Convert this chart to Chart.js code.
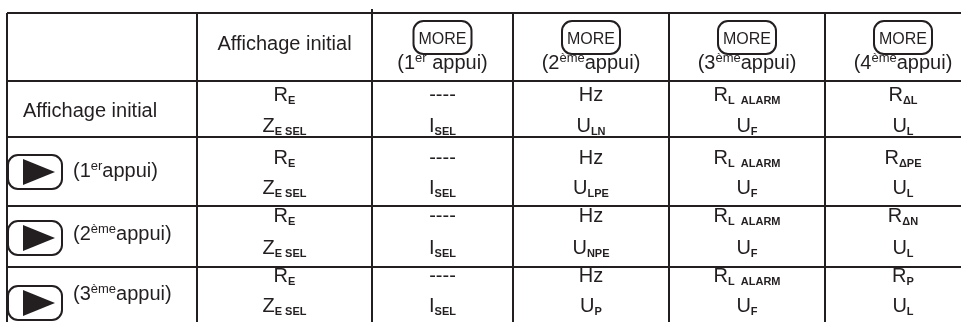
<!DOCTYPE html>
<html>
<head>
<meta charset="utf-8">
<style>
  html, body { margin: 0; padding: 0; background: #fff; }
  canvas { display: block; }
</style>
</head>
<body>
<canvas id="table" width="961" height="322"></canvas>
<script src="https://cdn.jsdelivr.net/npm/chart.js"></script>
<script>
  // table content
  const pressNums = ['1', '2', '3', '4'];
  const pressSup = ['er', 'ème', 'ème', 'ème'];
  const rowNums = ['', '1', '2', '3'];
  const rowSup = ['', 'er', 'ème', 'ème'];
  const initialLabel = 'Affichage initial';

  // each cell: [symbol, subscript]
  const initTop = [['R', 'E'], ['R', 'E'], ['R', 'E'], ['R', 'E']];
  const initBottom = [['Z', 'E SEL'], ['Z', 'E SEL'], ['Z', 'E SEL'], ['Z', 'E SEL']];
  const more1Top = [['----', ''], ['----', ''], ['----', ''], ['----', '']];
  const more1Bottom = [['I', 'SEL'], ['I', 'SEL'], ['I', 'SEL'], ['I', 'SEL']];
  const more2Top = [['Hz', ''], ['Hz', ''], ['Hz', ''], ['Hz', '']];
  const more2Bottom = [['U', 'LN'], ['U', 'LPE'], ['U', 'NPE'], ['U', 'P']];
  const more3Top = [['R', 'L  ALARM'], ['R', 'L  ALARM'], ['R', 'L  ALARM'], ['R', 'L  ALARM']];
  const more3Bottom = [['U', 'F'], ['U', 'F'], ['U', 'F'], ['U', 'F']];
  const more4Top = [['R', 'ΔL'], ['R', 'ΔPE'], ['R', 'ΔN'], ['R', 'P']];
  const more4Bottom = [['U', 'L'], ['U', 'L'], ['U', 'L'], ['U', 'L']];

  // layout (scale units == pixels)
  const colEdges = [7, 197, 372, 513, 669, 825, 981];
  const rowEdges = [13, 81, 137, 206, 267];
  const rowBase = [[101, 132], [164, 194], [222, 254], [282, 312]];
  const labelBase = [117, 177, 240, 300];
  const buttonMid = [0, 172, 238, 303];
  const INK = '#231f20';
  const FAM = '"Liberation Sans", Arial, sans-serif';
  const MAIN = `20px ${FAM}`;
  const SUB = `bold 11px ${FAM}`;
  const SUP = `13px ${FAM}`;

  const main = t => ({ t, f: MAIN, dy: 0 });
  const sub = t => ({ t, f: SUB, dy: 3 });
  const sup = t => ({ t, f: SUP, dy: -7 });

  function drawRich(ctx, parts, x, y, align) {
    let w = 0;
    for (const p of parts) { ctx.font = p.f; p.w = ctx.measureText(p.t).width; w += p.w; }
    let cx = align === 'left' ? x : x - w / 2;
    ctx.textAlign = 'left';
    ctx.textBaseline = 'alphabetic';
    for (const p of parts) {
      ctx.font = p.f;
      ctx.fillText(p.t, cx, y + p.dy);
      cx += p.w;
    }
  }

  function roundBox(ctx, x0, y0, x1, y1, r) {
    ctx.beginPath();
    ctx.roundRect(x0, y0, x1 - x0, y1 - y0, r);
    ctx.stroke();
  }

  const columns = [
    [initTop, initBottom], [more1Top, more1Bottom], [more2Top, more2Bottom],
    [more3Top, more3Bottom], [more4Top, more4Bottom]
  ];

  const tablePlugin = {
    id: 'tableText',
    afterDraw(chart) {
      const { ctx, scales: { x, y } } = chart;
      const mid = c => x.getPixelForValue((colEdges[c] + colEdges[c + 1]) / 2);
      ctx.save();
      ctx.fillStyle = INK;
      ctx.strokeStyle = INK;

      // little stub above the top border
      ctx.lineWidth = 2;
      ctx.beginPath();
      ctx.moveTo(x.getPixelForValue(colEdges[2]), y.getPixelForValue(rowEdges[0]) - 4);
      ctx.lineTo(x.getPixelForValue(colEdges[2]), y.getPixelForValue(rowEdges[0]));
      ctx.stroke();

      // header
      drawRich(ctx, [main(initialLabel)], mid(1), y.getPixelForValue(50));
      pressNums.forEach((n, i) => {
        const cx = mid(i + 2);
        ctx.lineWidth = 2;
        roundBox(ctx, cx - 29, y.getPixelForValue(21), cx + 29, y.getPixelForValue(54), 10);
        drawRich(ctx, [{ t: 'MORE', f: `16px ${FAM}`, dy: 0 }], cx, y.getPixelForValue(44));
        const tail = i === 0 ? ' appui)' : 'appui)';
        drawRich(ctx, [main('(' + n), sup(pressSup[i]), main(tail)], cx, y.getPixelForValue(69));
      });

      // rows
      rowNums.forEach((n, r) => {
        const lb = y.getPixelForValue(labelBase[r]);
        if (r === 0) {
          drawRich(ctx, [main(initialLabel)], x.getPixelForValue(23), lb, 'left');
        } else {
          const by = y.getPixelForValue(buttonMid[r]);
          ctx.lineWidth = 2;
          roundBox(ctx, x.getPixelForValue(8), by - 17, x.getPixelForValue(62), by + 17, 10);
          ctx.beginPath();
          ctx.moveTo(x.getPixelForValue(23), by - 13);
          ctx.lineTo(x.getPixelForValue(55), by);
          ctx.lineTo(x.getPixelForValue(23), by + 13);
          ctx.closePath();
          ctx.fill();
          drawRich(ctx, [main('(' + n), sup(rowSup[r]), main('appui)')], x.getPixelForValue(73), lb, 'left');
        }
        columns.forEach(([top, bottom], c) => {
          const cx = mid(c + 1);
          const [t1, s1] = top[r];
          const [t2, s2] = bottom[r];
          drawRich(ctx, [main(t1), sub(s1)], cx, y.getPixelForValue(rowBase[r][0]));
          drawRich(ctx, [main(t2), sub(s2)], cx, y.getPixelForValue(rowBase[r][1]));
        });
      });
      ctx.restore();
    }
  };

  const gridOpts = { color: INK, lineWidth: 2, drawTicks: false };
  new Chart(document.getElementById('table'), {
    type: 'scatter',
    data: { datasets: [] },
    options: {
      responsive: false,
      animation: false,
      events: [],
      layout: { padding: { left: 7, top: 13, right: 0, bottom: 0 } },
      plugins: { legend: { display: false }, tooltip: { enabled: false } },
      scales: {
        x: {
          type: 'linear', min: 7, max: 961,
          afterBuildTicks: s => { s.ticks = colEdges.filter(v => v <= 961).map(value => ({ value })); },
          ticks: { display: false }, grid: gridOpts, border: { display: false }
        },
        y: {
          type: 'linear', reverse: true, min: 13, max: 322,
          afterBuildTicks: s => { s.ticks = rowEdges.map(value => ({ value })); },
          ticks: { display: false }, grid: gridOpts, border: { display: false }
        }
      }
    },
    plugins: [tablePlugin]
  });
</script>
</body>
</html>
